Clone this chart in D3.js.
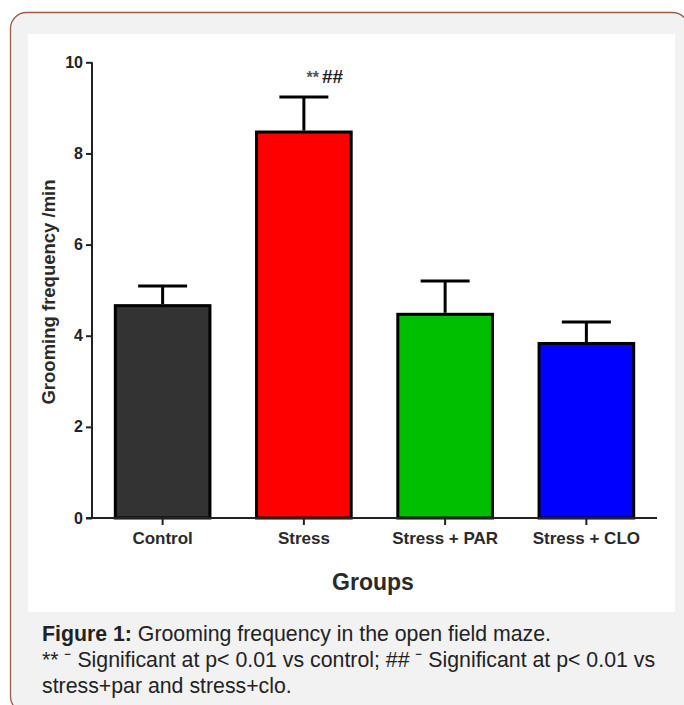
<!DOCTYPE html>
<html><head><meta charset="utf-8">
<script src="https://cdn.jsdelivr.net/npm/d3@7"></script>
<style>html,body{margin:0;padding:0;background:#fff;}svg{display:block;}</style>
</head><body>
<script>
const categories = ["Control", "Stress", "Stress + PAR", "Stress + CLO"];
const means = [4.66, 8.47, 4.47, 3.83];
const errors = [0.43, 0.77, 0.73, 0.47];
const barColors = ["#333333", "#ff0000", "#00bf00", "#0000ff"];
const yTicks = [0, 2, 4, 6, 8, 10];
const annotation = { category: "Stress", stars: "**", hashes: "##" };
const captionTitle = "Figure 1:";
const captionLines = [" Grooming frequency in the open field maze.",
  "** \u207B Significant at p< 0.01 vs control; ## \u207B Significant at p< 0.01 vs",
  "stress+par and stress+clo."];

const W = 684, H = 705;
const svg = d3.select("body").append("svg").attr("width", W).attr("height", H);

// outer panel
svg.append("rect").attr("x", 10.5).attr("y", 12.5).attr("width", 678).attr("height", 700)
  .attr("rx", 16).attr("fill", "#f2f2f2").attr("stroke", "#9c5a48").attr("stroke-width", 1.3);
// white chart area
svg.append("rect").attr("x", 28).attr("y", 34).attr("width", 647).attr("height", 578).attr("fill", "#fff");

const x = d3.scaleBand().domain(categories).range([92, 657]).paddingInner(0.33).paddingOuter(0.165);
const y = d3.scaleLinear().domain([0, 10]).range([518, 62.3]);

const g = svg.append("g");
const font = "'Liberation Sans', Arial, sans-serif";

// bars
g.selectAll("rect.bar").data(categories).join("rect").attr("class", "bar")
  .attr("x", d => x(d)).attr("width", x.bandwidth())
  .attr("y", (d, i) => y(means[i])).attr("height", (d, i) => y(0) - y(means[i]))
  .attr("fill", (d, i) => barColors[i]).attr("stroke", "#000").attr("stroke-width", 3);

// error bars
const capW = 49;
categories.forEach((c, i) => {
  const cx = x(c) + x.bandwidth() / 2;
  g.append("line").attr("x1", cx).attr("x2", cx).attr("y1", y(means[i]) - 1.5).attr("y2", y(means[i] + errors[i]))
    .attr("stroke", "#000").attr("stroke-width", 3);
  g.append("line").attr("x1", cx - capW / 2).attr("x2", cx + capW / 2).attr("y1", y(means[i] + errors[i])).attr("y2", y(means[i] + errors[i]))
    .attr("stroke", "#000").attr("stroke-width", 3);
});

// y axis
const yAxis = g.append("g").attr("transform", "translate(92,0)")
  .call(d3.axisLeft(y).tickValues(yTicks).tickSize(6).tickPadding(3).tickFormat(d3.format("d")));
yAxis.select(".domain").attr("stroke", "#222").attr("stroke-width", 2).attr("d", "M0,62.3V518");
yAxis.selectAll(".tick line").attr("stroke", "#222").attr("stroke-width", 2);
yAxis.selectAll(".tick text").attr("font-family", font).attr("font-size", 16).attr("font-weight", "bold").attr("fill", "#222");

// x axis
const xAxis = g.append("g").attr("transform", "translate(0,518)")
  .call(d3.axisBottom(x).tickSize(7).tickPadding(5));
xAxis.select(".domain").attr("stroke", "#222").attr("stroke-width", 2).attr("d", "M86,0H657");
xAxis.selectAll(".tick line").attr("stroke", "#222").attr("stroke-width", 2);
xAxis.selectAll(".tick text").attr("font-family", font).attr("font-size", 17).attr("font-weight", "bold").attr("fill", "#2a2a2a")
  .attr("dy", "0.8em");

// axis titles
svg.append("text").attr("transform", "translate(55,292) rotate(-90)").attr("text-anchor", "middle")
  .attr("font-family", font).attr("font-size", 18.5).attr("font-weight", "bold").attr("fill", "#2a2a2a")
  .text("Grooming frequency /min");
svg.append("text").attr("x", 373).attr("y", 590).attr("text-anchor", "middle")
  .attr("font-family", font).attr("font-size", 23).attr("font-weight", "bold").attr("fill", "#2a2a2a")
  .text("Groups");

// significance annotation
const ai = categories.indexOf(annotation.category);
const ax = x(annotation.category) + x.bandwidth() / 2;
const annY = y(means[ai] + errors[ai]) - 14;
const at = svg.append("text").attr("x", ax + 21).attr("y", annY).attr("text-anchor", "middle")
  .attr("font-family", font).attr("font-size", 19).attr("font-weight", "bold").attr("fill", "#222");
at.append("tspan").attr("fill", "#555").attr("font-size", 16).text(annotation.stars);
at.append("tspan").attr("dx", 3).text(annotation.hashes);

// caption
const cap = svg.append("text").attr("font-family", font).attr("font-size", 21.3).attr("fill", "#222");
const l1 = cap.append("tspan").attr("x", 42).attr("y", 641);
l1.append("tspan").attr("font-weight", "bold").text(captionTitle);
l1.append("tspan").text(captionLines[0]);
cap.append("tspan").attr("x", 42).attr("y", 667).text(captionLines[1]);
cap.append("tspan").attr("x", 42).attr("y", 693).text(captionLines[2]);
</script>
</body></html>
